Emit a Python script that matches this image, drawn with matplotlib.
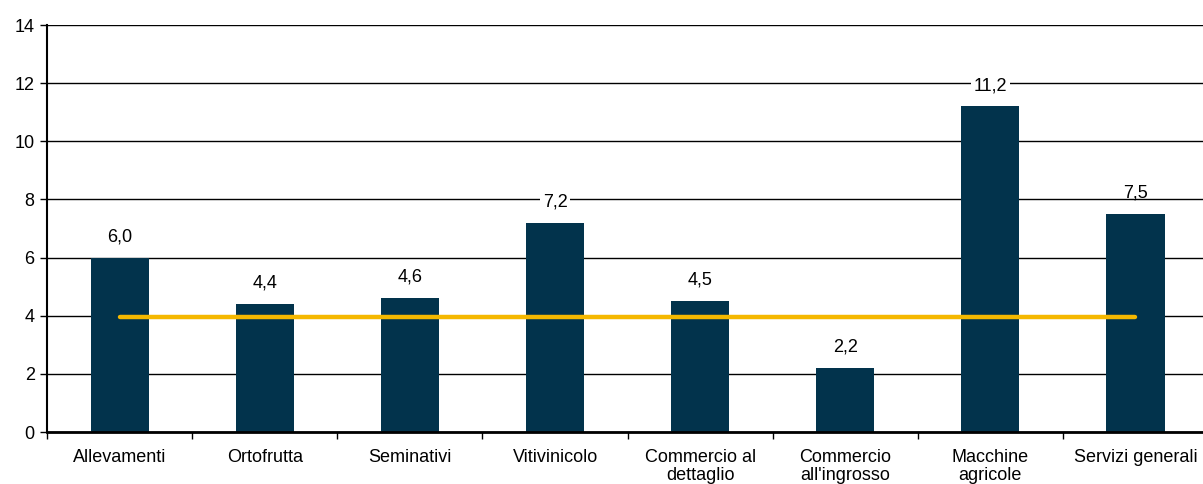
import numpy as np
import matplotlib.pyplot as plt

plt.rcParams['font.family'] = ['Liberation Sans', 'DejaVu Sans']

categories = ['Allevamenti', 'Ortofrutta', 'Seminativi', 'Vitivinicolo',
              'Commercio al\ndettaglio', "Commercio\nall'ingrosso",
              'Macchine\nagricole', 'Servizi generali']
values = [6.0, 4.4, 4.6, 7.2, 4.5, 2.2, 11.2, 7.5]
media = [3.95] * len(categories)
labels = ['6,0', '4,4', '4,6', '7,2', '4,5', '2,2', '11,2', '7,5']

x = np.arange(len(categories))

fig = plt.figure(figsize=(12.03, 4.84), dpi=100)
ax = fig.add_axes([0.0392, 0.1074, 0.965, 0.8409])

ax.bar(x, values, width=0.4, color='#02334c', zorder=2)
ax.plot(x, media, color='#f5b800', lw=3.2, solid_capstyle='round', zorder=3)

for i, (v, t) in enumerate(zip(values, labels)):
    box = dict(facecolor='white', edgecolor='none', pad=2) if i != 7 else None
    ax.annotate(t, (x[i], v), xytext=(0, 15), textcoords='offset points',
                ha='center', va='center', fontsize=13, bbox=box, zorder=4)

ax.set_xlim(-0.5, 7.5)
ax.set_ylim(0, 14)
ax.set_yticks(np.arange(0, 15, 2))
ax.yaxis.grid(True, color='black', lw=1)
ax.set_axisbelow(True)

# tick marks between categories, labels at centres
ax.set_xticks(np.arange(-0.5, 8, 1))
ax.set_xticklabels([])
ax.set_xticks(x, minor=True)
ax.set_xticklabels(categories, minor=True, fontsize=13, linespacing=1.1)
ax.tick_params(axis='x', which='minor', length=0, pad=12)
ax.tick_params(axis='x', which='major', length=5, width=1, direction='out')
ax.tick_params(axis='y', length=5, width=1, labelsize=13, pad=4)

for s in ['top', 'right']:
    ax.spines[s].set_visible(False)
ax.spines['left'].set_linewidth(1.5)
ax.spines['bottom'].set_linewidth(2)

plt.savefig('out.png', dpi=100)
